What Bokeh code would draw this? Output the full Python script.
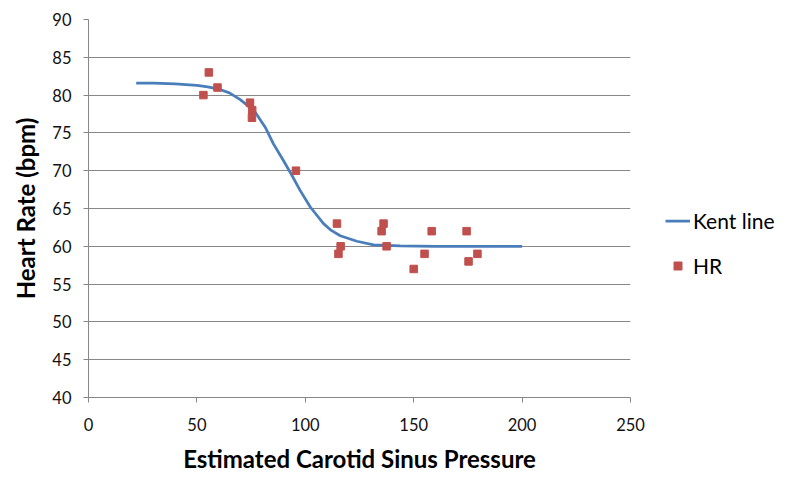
from bokeh.plotting import figure
from bokeh.models import ColumnDataSource, Legend, LegendItem, Range1d, FixedTicker
from bokeh.embed import file_html
from bokeh.resources import INLINE

# Kent line
kent_x = [22, 30, 40, 50, 55, 60, 65, 70, 73, 77, 81.5, 85.3, 89.9, 93.8, 97.6, 102.3, 108.4, 112, 116.1, 123.8, 131.5, 143.8, 160, 180, 200]
kent_y = [81.6, 81.6, 81.5, 81.3, 81.1, 80.8, 80.3, 79.4, 78.7, 77.7, 75.75, 73.55, 71.35, 69.4, 67.4, 65.2, 63.0, 62.1, 61.4, 60.67, 60.2, 60.06, 60.0, 60.0, 60.0]

# HR observations
hr_x = [53, 55.5, 59.5, 74.5, 75.5, 75.4, 95.7, 114.6, 116.3, 115.3, 136.1, 135.2, 137.5, 150, 155, 158.3, 174.4, 175.3, 179.4]
hr_y = [80, 83, 81, 79, 78, 77, 70, 63, 60, 59, 63, 62, 60, 57, 59, 62, 62, 58, 59]

x_ticks = [0, 50, 100, 150, 200, 250]
y_ticks = [40, 45, 50, 55, 60, 65, 70, 75, 80, 85, 90]

FONT = "Lato"
GRID = "#878787"

p = figure(frame_width=542, frame_height=378, output_backend="svg", toolbar_location=None,
           x_range=Range1d(0, 250), y_range=Range1d(40, 90),
           min_border_left=88, min_border_top=19, min_border_bottom=93, min_border_right=170)

p.outline_line_color = None
p.background_fill_color = "white"
p.border_fill_color = "white"

p.xgrid.grid_line_color = None
p.ygrid.grid_line_color = GRID
p.ygrid.grid_line_width = 1

p.xaxis.ticker = FixedTicker(ticks=x_ticks)
p.yaxis.ticker = FixedTicker(ticks=y_ticks)
for ax in (p.xaxis, p.yaxis):
    ax.axis_line_color = GRID
    ax.major_tick_line_color = GRID
    ax.major_tick_out = 5
    ax.major_tick_in = 0
    ax.minor_tick_line_color = None
    ax.major_label_text_font = FONT
    ax.major_label_text_font_size = "16.5px"
    ax.major_label_text_color = "#111111"
    ax.axis_label_text_font = FONT
    ax.axis_label_text_font_style = "bold"
    ax.axis_label_text_font_size = "24px"
    ax.axis_label_text_color = "#000000"

p.xaxis.axis_label = "Estimated Carotid Sinus Pressure"
p.yaxis.axis_label = "Heart Rate (bpm)"
p.xaxis.major_label_standoff = 15
p.yaxis.major_label_standoff = 12
p.xaxis.axis_label_standoff = 10
p.yaxis.axis_label_standoff = 9

line_src = ColumnDataSource(dict(x=kent_x, y=kent_y))
pts_src = ColumnDataSource(dict(x=hr_x, y=hr_y))

r_line = p.line("x", "y", source=line_src, line_color="#4A7EBB", line_width=2.75)
r_pts = p.scatter("x", "y", source=pts_src, marker="square", size=7.5,
                  fill_color="#C0504D", line_color="#C0504D")

legend = Legend(items=[LegendItem(label="Kent line", renderers=[r_line]),
                       LegendItem(label="HR", renderers=[r_pts])],
                location="left", orientation="vertical")
legend.title = " "
legend.title_text_font_size = "40px"
legend.title_standoff = 24
legend.border_line_color = None
legend.background_fill_alpha = 0
legend.label_text_font = FONT
legend.label_text_font_size = "21px"
legend.label_text_color = "#000000"
legend.glyph_width = 25
legend.glyph_height = 20
legend.label_height = 20
legend.spacing = 20
legend.label_standoff = 3
legend.padding = 0
legend.margin = 35
p.add_layout(legend, "right")

open("out.html", "w").write(file_html(p, INLINE))
